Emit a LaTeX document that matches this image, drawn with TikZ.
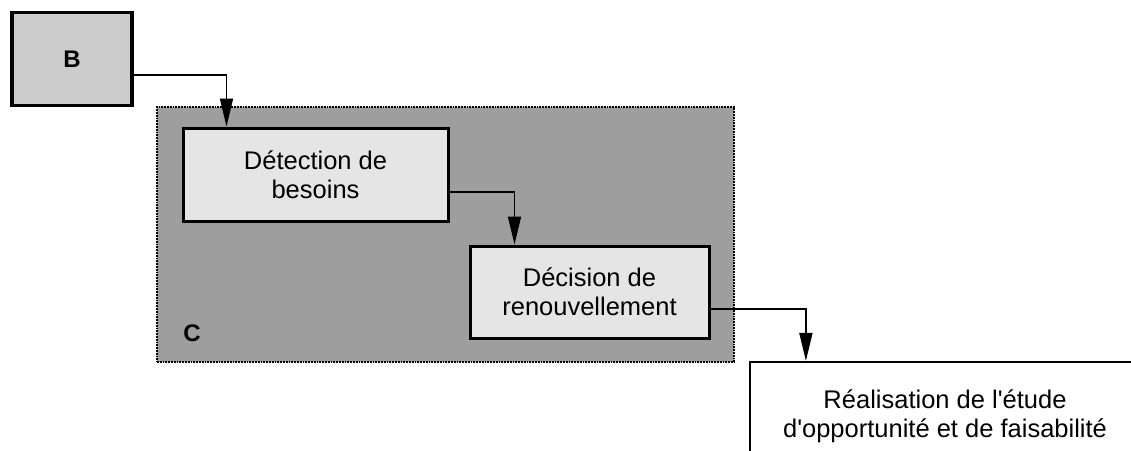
\documentclass[tikz,border=0pt]{standalone}
\usepackage{fontspec}
\newfontfamily\arialish{Liberation Sans}
\usetikzlibrary{arrows.meta}
\definecolor{bfill}{gray}{0.80}
\definecolor{cfill}{gray}{0.62}
\definecolor{ifill}{gray}{0.90}
\tikzset{
  txt/.style={font=\arialish\fontsize{25.5}{29}\selectfont, align=center, inner sep=0pt},
  lab/.style={font=\arialish\bfseries\fontsize{24}{28}\selectfont, inner sep=0pt},
  procbox/.style={txt, draw=black, line width=3pt, fill=ifill},
  arr/.style={line width=1.8pt, -{Triangle[length=28pt,width=13pt]}},
}
\begin{document}
\begin{tikzpicture}[x=1pt,y=-1pt]
\useasboundingbox (0,0) rectangle (1131,450);
\clip (0,0) rectangle (1131,450);
\fill[white] (0,0) rectangle (1131,450);
% container C
\node[draw=black, densely dotted, line width=1.8pt, fill=cfill, minimum width=577pt, minimum height=255pt, inner sep=0pt] (cont) at (445.5,234.5) {};
\node[lab] (clab) at (192,333) {C};
% B
\node[lab, draw=black, line width=3.5pt, fill=bfill, minimum width=120pt, minimum height=93pt] (B) at (72,59) {B};
% inner process boxes
\node[procbox, minimum width=265pt, minimum height=93pt] (det) at (315.5,174.5) {Détection de\\besoins};
\node[procbox, minimum width=239pt, minimum height=92pt] (dec) at (589.5,292) {Décision de\\renouvellement};
% realisation box (clipped at page edge)
\node[txt, draw=black, line width=2.2pt, fill=white, minimum width=390pt, minimum height=108pt] (rea) at (945,416) {Réalisation de l'étude\\d'opportunité et de faisabilité};
% connectors
\draw[arr] ([yshift=-16pt]B.east) -| ([xshift=45pt]det.north west);
\draw[arr] ([yshift=-17.5pt]det.east) -| ([xshift=46pt]dec.north west);
\draw[arr] ([yshift=-17pt]dec.east) -| ([xshift=57pt]rea.north west);
\end{tikzpicture}
\end{document}
